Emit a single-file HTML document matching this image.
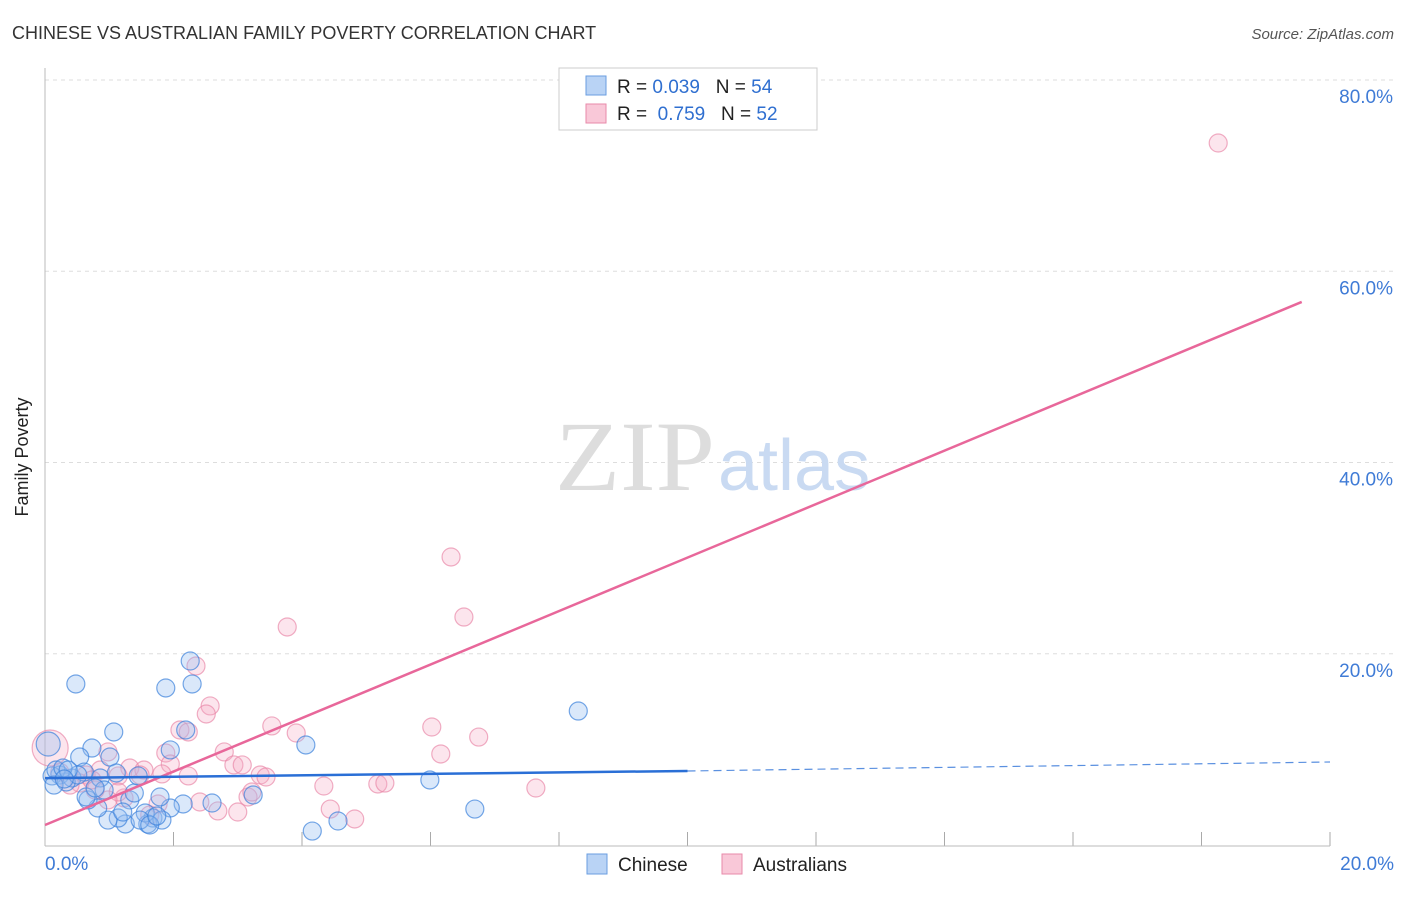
<!DOCTYPE html>
<html><head><meta charset="utf-8"><style>
body{margin:0;background:#fff;font-family:"Liberation Sans",sans-serif}
svg text{font-family:"Liberation Sans",sans-serif}
</style></head><body>
<svg id="chart" width="1406" height="892">
<text x="12" y="39" font-size="18" fill="#333">CHINESE VS AUSTRALIAN FAMILY POVERTY CORRELATION CHART</text>
<text x="1394" y="39" font-size="15" fill="#555" font-style="italic" text-anchor="end">Source: ZipAtlas.com</text>
<g id="grid"></g>
<text x="715" y="490" font-size="100" fill="#ddd" text-anchor="end" textLength="160" lengthAdjust="spacingAndGlyphs" style="font-family:'Liberation Serif',serif">ZIP</text>
<text x="718" y="490" font-size="72" fill="#c9daf2">atlas</text>
<line x1="45" y1="68" x2="45" y2="846" stroke="#bbb"/>
<line x1="45" y1="846" x2="1330" y2="846" stroke="#bbb"/>
<text x="28" y="457" font-size="18" fill="#222" text-anchor="middle" transform="rotate(-90 28 457)">Family Poverty</text>
<g id="marks"></g>
<g id="lines"></g>
<g>
<rect x="559" y="68" width="258" height="62" fill="#fff" stroke="#ccc"/>
<rect x="586" y="76" width="20" height="19" fill="#b9d3f5" stroke="#6a9ee0"/>
<rect x="586" y="104" width="20" height="19" fill="#f9c8d8" stroke="#e88aaa"/>
<text x="617" y="93" font-size="19" fill="#222">R = <tspan fill="#2f6fd0">0.039</tspan>&#160;&#160;&#160;N = <tspan fill="#2f6fd0">54</tspan></text>
<text x="617" y="120" font-size="19" fill="#222">R = &#160;<tspan fill="#2f6fd0">0.759</tspan>&#160;&#160;&#160;N = <tspan fill="#2f6fd0">52</tspan></text>
</g>
<g>
<rect x="587" y="854" width="20" height="20" fill="#b9d3f5" stroke="#6a9ee0"/>
<text x="618" y="871" font-size="19" fill="#222">Chinese</text>
<rect x="722" y="854" width="20" height="20" fill="#f9c8d8" stroke="#e88aaa"/>
<text x="753" y="871" font-size="19" fill="#222">Australians</text>
</g>
</svg>
<script>
const yTicks=[20,40,60,80];
const xTickLabels=["0.0%","20.0%"];
const chineseX=[.48,1.88,2.26,2.29,1.07,.73,.54,1.01,2.19,1.95,.05,4.06,8.30,5.99,6.69,4.16,4.56,3.24,2.60,2.15,1.95,1.79,1.68,1.60,1.25,1.14,.98,.82,.67,1.32,1.39,.23,.42,.11,.33,.86,1.11,1.45,.17,.61,.92,1.82,1.56,1.21,.64,.78,.51,.28,.14,.36,1.48,1.63,1.74,.30];
const chineseY=[16.84,16.42,19.24,16.84,11.82,10.14,9.20,9.20,12.03,9.94,10.56,10.46,14.01,6.80,3.76,1.46,2.51,5.23,4.39,4.29,3.87,5.02,2.82,2.20,2.20,2.82,2.61,3.87,4.71,4.71,5.44,7.32,7.01,7.22,6.59,7.01,7.53,7.22,7.84,7.63,5.75,2.61,3.35,3.45,5.02,5.96,7.32,8.05,6.27,7.84,2.61,2.09,3.03,6.9];
const ausX=[18.26,6.32,6.52,3.77,2.35,2.57,2.51,2.10,2.23,1.88,3.53,3.91,2.79,6.02,6.75,6.16,2.94,3.07,3.35,3.44,1.95,1.32,1.54,.98,.86,1.14,.23,.64,1.48,4.34,5.18,5.29,7.64,4.44,4.82,3.16,2.41,2.69,3.00,1.76,1.23,1.14,.78,.54,.39,.08,3.22,2.23,1.82,.98,1.63,.73];
const ausY=[73.41,30.12,23.84,22.80,18.72,14.54,13.70,12.03,11.82,9.62,12.45,11.71,9.73,12.34,11.29,9.52,8.37,8.37,7.32,7.11,8.47,8.05,7.84,9.73,7.84,7.22,7.63,7.32,7.32,6.17,6.38,6.48,5.96,3.76,2.72,5.02,4.50,3.56,3.45,4.29,4.92,5.54,5.75,6.48,6.27,10.14,5.54,7.22,7.43,4.71,3.14,6.80];
const bigIdxChinese=[10], bigIdxAus=[45];
const blueTrend=[6.99,7.74,8.68];
const pinkTrend=[2.09,56.79];
const NS="http://www.w3.org/2000/svg";
const sx=v=>45+v/20*1285;
const sy=v=>845-v/20*191.25;
const grid=document.getElementById('grid');
function mk(t,a,p){const e=document.createElementNS(NS,t);for(const k in a)e.setAttribute(k,a[k]);p.appendChild(e);return e;}
yTicks.forEach(t=>{
 const l=mk('line',{x1:45,x2:1394,y1:sy(t),y2:sy(t),stroke:'#ddd','stroke-dasharray':'4,4'},grid);
 
 
 const tx=mk('text',{x:1393,y:sy(t)+23,'font-size':19,fill:'#3f7bd6','text-anchor':'end'},grid);
 tx.textContent=t.toFixed(1)+'%';
 
 
});
for(let i=1;i<=10;i++){
 const x=sx(i*2);
 const l=mk('line',{x1:x,x2:x,y1:832,y2:846,stroke:'#aaa'},grid);
 
 
}
xTickLabels.forEach((s,i)=>{
 const tx=mk('text',{x:i?1394:45,y:870,'font-size':19,fill:'#3f7bd6','text-anchor':i?'end':'start'},grid);
 tx.textContent=s;
 
 
});
const marks=document.getElementById('marks');
ausX.forEach((x,i)=>{
 const c=mk('circle',{cx:sx(x),cy:sy(ausY[i]),r:bigIdxAus.includes(i)?18:9,fill:'rgba(246,170,195,0.3)',stroke:'rgba(232,130,165,0.65)','stroke-width':1.2},marks);
 
 
});
chineseX.forEach((x,i)=>{
 const c=mk('circle',{cx:sx(x),cy:sy(chineseY[i]),r:bigIdxChinese.includes(i)?12:9,fill:'rgba(150,190,240,0.35)',stroke:'rgba(60,130,220,0.7)','stroke-width':1.2},marks);
 
 
});
const lines=document.getElementById('lines');
let a=mk('line',{x1:sx(0),y1:sy(pinkTrend[0]),x2:sx(19.56),y2:sy(pinkTrend[1]),stroke:'#e8679a','stroke-width':2.5},lines);


let b=mk('line',{x1:sx(0),y1:sy(blueTrend[0]),x2:sx(10),y2:sy(blueTrend[1]),stroke:'#2a6fd6','stroke-width':2.5},lines);


let d=mk('line',{x1:sx(10),y1:sy(blueTrend[1]),x2:sx(20),y2:sy(blueTrend[2]),stroke:'#5a90e0','stroke-width':1.2,'stroke-dasharray':'8,5'},lines);


</script>
</body></html>
